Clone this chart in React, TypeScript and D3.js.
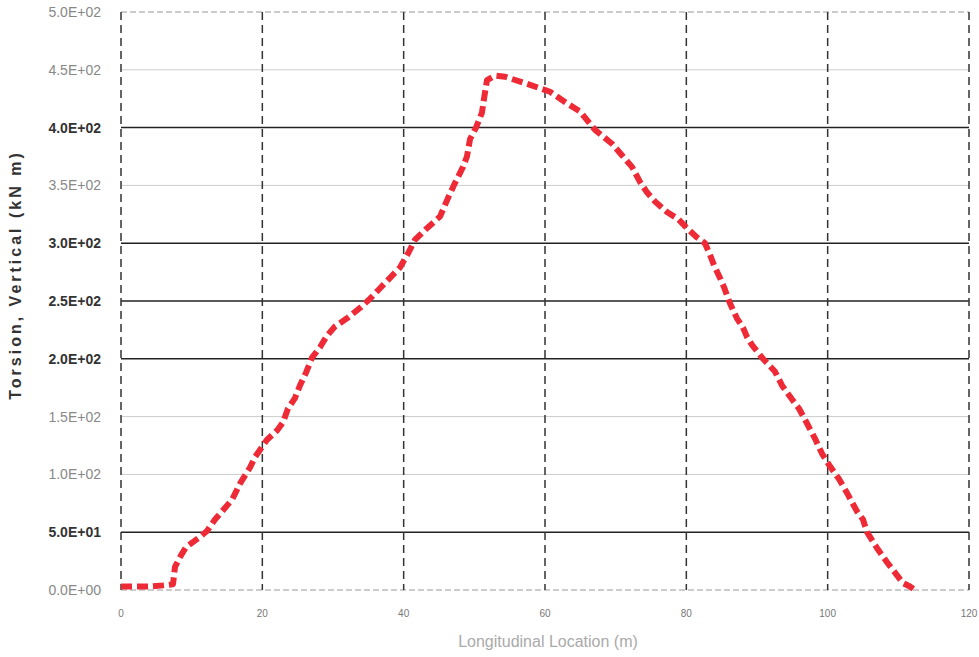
import React from "react";
import * as d3 from "d3";

const locations = [0.0, 3.82, 5.94, 7.36, 7.64, 8.49, 9.2, 11.18, 12.17, 13.3, 14.43, 15.71, 16.84, 18.26, 18.96, 20.66, 22.08, 22.92, 23.63, 24.62, 25.33, 26.18, 27.03, 28.16, 29.15, 30.28, 31.98, 33.82, 35.24, 36.65, 38.07, 39.48, 40.61, 41.6, 43.3, 45.14, 46.27, 47.26, 48.4, 48.96, 49.39, 50.24, 51.08, 51.37, 51.79, 52.92, 54.34, 57.88, 60.71, 63.11, 64.95, 67.08, 69.48, 71.04, 72.31, 73.44, 74.43, 75.57, 77.26, 78.82, 80.09, 81.51, 82.64, 83.35, 83.91, 84.76, 85.33, 86.17, 87.16, 88.02, 88.58, 89.29, 90.85, 92.54, 93.54, 94.95, 95.94, 97.08, 98.21, 99.2, 100.33, 101.6, 102.74, 103.44, 104.15, 105.0, 105.57, 107.12, 108.4, 109.53, 110.66, 111.65, 112.36];
const torsion = [3, 3, 4, 5, 20, 30, 37, 46, 51, 61, 69, 78, 92, 106, 115, 130, 138, 145, 157, 166, 177, 188, 201, 210, 220, 228, 235, 244, 252, 261, 270, 279, 291, 303, 313, 323, 339, 352, 366, 375, 390, 400, 413, 425, 441, 445, 444, 437, 431, 421, 414, 398, 386, 375, 366, 353, 344, 336, 327, 321, 313, 305, 300, 290, 281, 270, 262, 248, 235, 227, 219, 212, 200, 189, 177, 165, 157, 144, 131, 118, 107, 96, 84, 76, 68, 61, 50, 35, 24, 15, 6, 3, 0];

const xTicks = [0, 20, 40, 60, 80, 100, 120];
const yTicks = [0, 50, 100, 150, 200, 250, 300, 350, 400, 450, 500];
const yTickLabels = ["0.0E+00", "5.0E+01", "1.0E+02", "1.5E+02", "2.0E+02", "2.5E+02", "3.0E+02", "3.5E+02", "4.0E+02", "4.5E+02", "5.0E+02"];
const darkGrid = [50, 200, 250, 300, 400];

export default function App() {
  const W = 979, H = 657;
  const left = 121, right = 969, top = 12, bottom = 590;
  const x = d3.scaleLinear().domain([0, 120]).range([left, right]);
  const y = d3.scaleLinear().domain([0, 500]).range([bottom, top]);
  const pts = locations.map((l, i) => [l, torsion[i]] as [number, number]);
  const line = d3.line<[number, number]>().x(d => x(d[0])).y(d => y(d[1]));
  return (
    <svg width={W} height={H} style={{ position: "absolute", left: 0, top: 0, background: "#fff" }}>
      {yTicks.map((t, i) => (
        <g key={"y" + t}>
          <line x1={left} x2={right} y1={y(t)} y2={y(t)}
            stroke={darkGrid.includes(t) ? "#222" : (t === 0 || t === 500 ? "#999" : "#ccc")}
            strokeWidth={darkGrid.includes(t) ? 1.5 : 1}
            strokeDasharray={t === 0 || t === 500 ? "6 3" : undefined} />
          <text x={101} y={y(t)} dy="0.35em" textAnchor="end" fontFamily="Liberation Sans, Arial, sans-serif"
            fontSize={14} fill={darkGrid.includes(t) ? "#333" : "#888"} fontWeight={darkGrid.includes(t) ? "bold" : "normal"}>{yTickLabels[i]}</text>
        </g>
      ))}
      {xTicks.map(t => (
        <g key={"x" + t}>
          <line x1={x(t)} x2={x(t)} y1={top} y2={bottom} stroke="#333" strokeWidth={1.5} strokeDasharray="8 5" />
          <text x={x(t)} y={617} textAnchor="middle" fontFamily="Liberation Sans, Arial, sans-serif" fontSize={10} fill="#777">{t}</text>
        </g>
      ))}
      <path d={line(pts) || ""} fill="none" stroke="#ee2a36" strokeWidth={6} strokeDasharray="11 5" strokeLinejoin="round" />
      <text x={548} y={647} textAnchor="middle" fontFamily="Liberation Sans, Arial, sans-serif" fontSize={16} fill="#aaa">Longitudinal Location (m)</text>
      <text transform={`translate(21,${(top + bottom) / 2 - 26}) rotate(-90)`} textAnchor="middle" fontFamily="Liberation Sans, Arial, sans-serif"
        fontSize={16} fontWeight="bold" fill="#333" letterSpacing={3}>Torsion, Vertical (kN m)</text>
    </svg>
  );
}
